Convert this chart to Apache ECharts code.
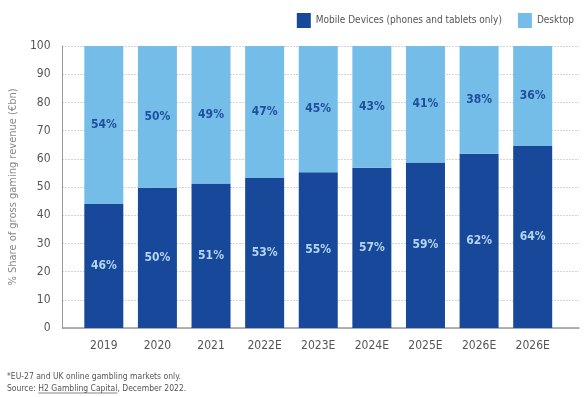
<!DOCTYPE html>
<html>
<head>
<meta charset="utf-8">
<script src="https://cdn.jsdelivr.net/npm/echarts@6/dist/echarts.min.js"></script>
<style>
  html, body { margin: 0; padding: 0; background: #fff; }
  #chart { width: 588px; height: 397px; }
</style>
</head>
<body>
<div id="chart"></div>
<script>
// categories and values
const years = ['2019', '2020', '2021', '2022E', '2023E', '2024E', '2025E', '2026E', '2026E']
// bar heights as drawn
const mobile = [44, 49.7, 51.2, 53.2, 55.2, 56.8, 58.7, 61.8, 64.5]
const desktop = [56, 50.3, 48.8, 46.8, 44.8, 43.2, 41.3, 38.2, 35.5]
// printed labels
const mobileLabels = ['46%', '50%', '51%', '53%', '55%', '57%', '59%', '62%', '64%']
const desktopLabels = ['54%', '50%', '49%', '47%', '45%', '43%', '41%', '38%', '36%']
const yTicks = [0, 100, 10]

const font = "'DejaVu Sans Condensed', 'Liberation Sans Narrow', sans-serif"
const dark = '#17489a'
const light = '#74bde8'

// width of the source prefix, to place the underline under the link text
const ctx = document.createElement('canvas').getContext('2d')
ctx.font = '8.5px ' + font
const srcPre = ctx.measureText('Source: ').width
const srcLink = ctx.measureText('H2 Gambling Capital').width

const myChart = echarts.init(document.getElementById('chart'))
myChart.setOption({
  animation: false,
  textStyle: { fontFamily: font },
  legend: {
    top: 8,
    right: 9,
    itemWidth: 14,
    itemHeight: 15,
    itemGap: 16,
    textStyle: { color: '#555', fontSize: 10, fontFamily: font },
    data: [
      { name: 'Mobile Devices (phones and tablets only)', icon: 'rect' },
      { name: 'Desktop', icon: 'rect' }
    ]
  },
  grid: [
    { left: 59, right: 9, top: 46, bottom: 69 },
    { left: 77, right: 28.5, top: 46, bottom: 69 }
  ],
  xAxis: [
    {
      gridIndex: 0, type: 'category', data: [''],
      axisLine: { lineStyle: { color: '#999', width: 1.5 } },
      axisTick: { show: false }, axisLabel: { show: false }
    },
    {
      gridIndex: 1, type: 'category', data: years,
      axisLine: { show: false }, axisTick: { show: false },
      axisLabel: { color: '#555', fontSize: 12, margin: 12, fontFamily: font }
    }
  ],
  yAxis: [
    {
      gridIndex: 0, type: 'value', min: yTicks[0], max: yTicks[1], interval: yTicks[2],
      name: '% Share of gross gaming revenue (€bn)',
      nameLocation: 'middle', nameGap: 40,
      nameTextStyle: { color: '#888', fontSize: 11, fontFamily: font },
      axisLine: { show: true, lineStyle: { color: '#999' } },
      axisTick: { show: false },
      axisLabel: { color: '#555', fontSize: 12, margin: 12, fontFamily: font },
      splitLine: { lineStyle: { color: '#aaa', type: [1, 2] } }
    },
    {
      gridIndex: 1, type: 'value', min: yTicks[0], max: yTicks[1],
      show: false, splitLine: { show: false }
    }
  ],
  series: [
    {
      name: 'Mobile Devices (phones and tablets only)',
      type: 'bar', stack: 'share', xAxisIndex: 1, yAxisIndex: 1,
      barWidth: 39, data: mobile,
      itemStyle: { color: dark },
      label: {
        show: true, position: 'inside', color: '#b3d6f3',
        fontSize: 12, fontWeight: 'bold', fontFamily: font,
        formatter: p => mobileLabels[p.dataIndex]
      }
    },
    {
      name: 'Desktop',
      type: 'bar', stack: 'share', xAxisIndex: 1, yAxisIndex: 1,
      barWidth: 39, data: desktop,
      itemStyle: { color: light },
      label: {
        show: true, position: 'inside', color: '#1f4f9e',
        fontSize: 12, fontWeight: 'bold', fontFamily: font,
        formatter: p => desktopLabels[p.dataIndex]
      }
    }
  ],
  graphic: [
    {
      type: 'text', left: 7, top: 372,
      style: { text: '*EU-27 and UK online gambling markets only.', fill: '#555', fontSize: 8.5, fontFamily: font }
    },
    {
      type: 'text', left: 7, top: 384,
      style: { text: 'Source: H2 Gambling Capital, December 2022.', fill: '#555', fontSize: 8.5, fontFamily: font }
    },
    {
      type: 'line',
      shape: { x1: 7 + srcPre, y1: 393, x2: 7 + srcPre + srcLink, y2: 393 },
      style: { stroke: '#555', lineWidth: 0.7 }
    }
  ]
})
</script>
</body>
</html>
